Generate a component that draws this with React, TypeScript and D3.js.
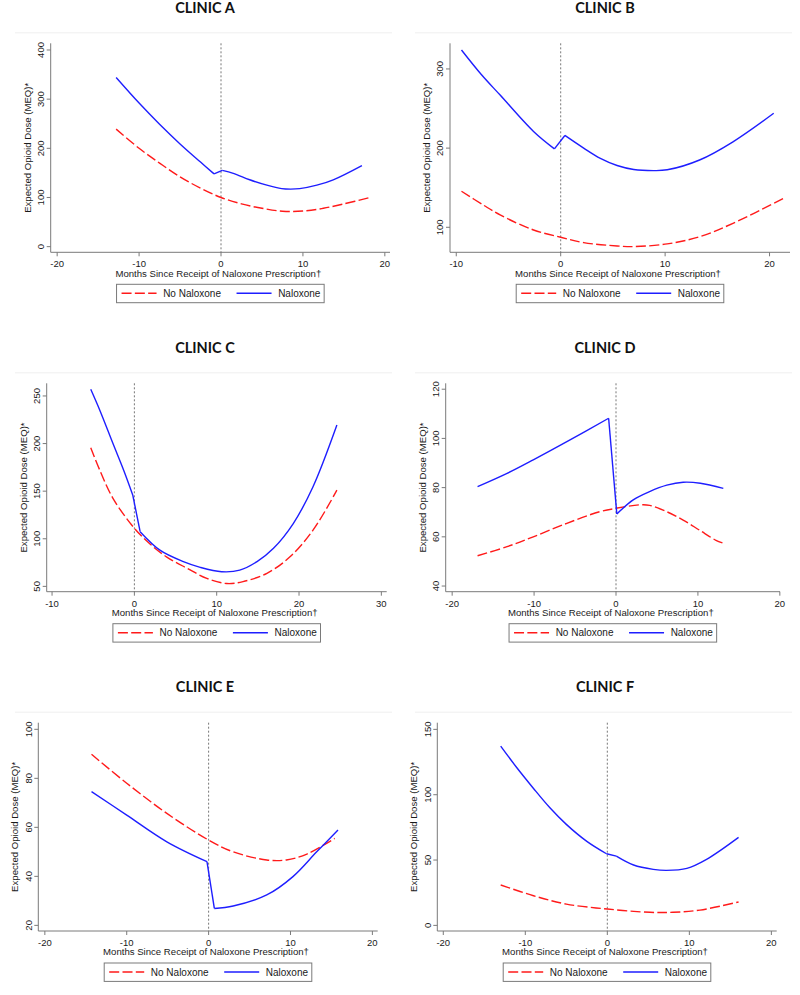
import React, { useEffect } from 'react';
import * as d3 from 'd3';

type Pt = [number, number];

// ---- Text ----
const panelTitles = ['CLINIC A', 'CLINIC B', 'CLINIC C', 'CLINIC D', 'CLINIC E', 'CLINIC F'];
const legendLabels = ['No Naloxone', 'Naloxone'];
const xAxisTitle = 'Months Since Receipt of Naloxone Prescription\u2020';
const yAxisTitle = 'Expected Opioid Dose (MEQ)*';

// ---- Clinic A ----
const clinicANoNaloxone: Pt[] = [[-12.8, 239], [-10, 200], [-7.5, 170], [-5, 142], [-2.5, 119], [0, 100], [2.5, 87], [5, 78], [7.5, 72], [10, 72.5], [12.5, 78], [15, 87], [18.2, 100]];
const clinicANaloxone: Pt[] = [[-12.8, 344], [-10, 292], [-7.5, 249], [-5, 209], [-2.5, 172], [-0.85, 148], [0.16, 155], [1.5, 149], [3.5, 136], [5.6, 125], [7.4, 118], [8.5, 117], [9.6, 118], [11.7, 125], [13.7, 136], [17.2, 165]];
const clinicAXTicks = [-20, -10, 0, 10, 20];
const clinicAYTicks = [0, 100, 200, 300, 400];

// ---- Clinic B ----
const clinicBNoNaloxone: Pt[] = [[-9.5, 145.5], [-7.4, 128], [-5.8, 115.6], [-2.6, 96.6], [0, 87.4], [2.2, 80.6], [5.4, 76.4], [7, 75.6], [10.2, 79], [13.3, 88], [16.5, 105], [21.4, 137]];
const clinicBNaloxone: Pt[] = [[-9.5, 324], [-7.6, 293], [-5.8, 267], [-2.6, 221], [-0.6, 199], [0.4, 216], [2.2, 200], [3.8, 187], [5.4, 178], [7, 173], [8.9, 171.6], [10.2, 172.6], [13.3, 185], [16.5, 208], [20.4, 244]];
const clinicBXTicks = [-10, 0, 10, 20];
const clinicBYTicks = [100, 200, 300];

// ---- Clinic C ----
const clinicCNoNaloxone: Pt[] = [[-5.3, 195.7], [-4.2, 172], [-2.6, 142.5], [0, 111], [1.9, 94.5], [3.9, 81], [6.4, 69], [8.8, 58.4], [11.2, 53], [13.2, 55], [16.1, 63.7], [18.9, 81], [21.7, 109], [24.6, 151]];
const clinicCNaloxone: Pt[] = [[-5.3, 257], [-4.2, 235], [-2.6, 200], [-1.3, 172], [-0.2, 146], [0.7, 107.4], [3.1, 88], [5.95, 76], [8, 70], [10.6, 65.4], [12.8, 67], [14.9, 76], [16.9, 90], [19.3, 116], [21.7, 154.7], [24.6, 219.5]];
const clinicCXTicks = [-10, 0, 10, 20, 30];
const clinicCYTicks = [50, 100, 150, 200, 250];

// ---- Clinic D ----
const clinicDNoNaloxone: Pt[] = [[-16.9, 52.3], [-13.3, 56], [-10.1, 60], [-6, 65.5], [-2, 70.2], [0, 71.6], [2.9, 73], [4.1, 72.8], [6.2, 70.2], [8.2, 66.8], [10.2, 62.7], [12.2, 58.6], [13.1, 57.4]];
const clinicDNaloxone: Pt[] = [[-16.9, 80.4], [-13.3, 85.8], [-10.1, 91.3], [-6, 98.7], [-0.9, 108.2], [0.1, 69.3], [2.1, 75], [4.1, 78.4], [6.2, 81], [8.2, 82.2], [10.3, 81.8], [13.1, 79.7]];
const clinicDXTicks = [-20, -10, 0, 10, 20];
const clinicDYTicks = [40, 60, 80, 100, 120];

// ---- Clinic E ----
const clinicENoNaloxone: Pt[] = [[-14.3, 89.8], [-10, 78], [-5.1, 65.7], [0, 54.8], [3, 50], [7.1, 46.7], [9.5, 46.7], [12, 49.1], [15.4, 55.5]];
const clinicENaloxone: Pt[] = [[-14.3, 74.6], [-10, 65], [-5.1, 54.1], [-0.2, 46], [0.7, 26.9], [3, 27.9], [7.1, 32.4], [10.3, 39.9], [13.2, 50], [15.8, 58.9]];
const clinicEXTicks = [-20, -10, 0, 10, 20];
const clinicEYTicks = [20, 40, 60, 80, 100];

// ---- Clinic F ----
const clinicFNoNaloxone: Pt[] = [[-13, 30.9], [-9, 22.7], [-5, 16.3], [0, 12.5], [5.2, 10], [8, 10], [11.3, 11.7], [16, 17.9]];
const clinicFNaloxone: Pt[] = [[-13, 137.2], [-11.1, 121.2], [-9, 104.8], [-7, 90], [-5, 77.3], [-2.5, 64.3], [-0.1, 54.8], [1.1, 53], [3.2, 46.2], [5.6, 42.9], [7.2, 42.1], [9.7, 43.6], [12.1, 50.5], [16, 67.3]];
const clinicFXTicks = [-20, -10, 0, 10, 20];
const clinicFYTicks = [0, 50, 100, 150];

// ---- Layout (positions, not data) ----
interface Layout { ox: number; left: number; top: number; right: number; bottom: number; xDomain: [number, number]; yDomain: [number, number]; }
const layouts: Layout[] = [
  { ox: 0, left: 50.7, top: 43.3, right: 390, bottom: 252.3, xDomain: [-20.79, 20.63], yDomain: [-11.5, 413.6] },
  { ox: 400, left: 450, top: 43.3, right: 790, bottom: 252.3, xDomain: [-10.6, 21.96], yDomain: [68.4, 332.4] },
  { ox: 0, left: 46.7, top: 383.3, right: 386.7, bottom: 591.7, xDomain: [-10.65, 30.65], yDomain: [44.4, 263.3] },
  { ox: 400, left: 445.7, top: 383.3, right: 780, bottom: 591.7, xDomain: [-20.79, 20.02], yDomain: [37.7, 122.4] },
  { ox: 0, left: 38.3, top: 722.7, right: 377.7, bottom: 931, xDomain: [-20.8, 20.65], yDomain: [17.7, 102.7] },
  { ox: 400, left: 437.3, top: 722.7, right: 776.7, bottom: 931, xDomain: [-20.73, 20.65], yDomain: [-4.3, 155.1] },
];

const panelData = [
  { noNal: clinicANoNaloxone, nal: clinicANaloxone, xTicks: clinicAXTicks, yTicks: clinicAYTicks },
  { noNal: clinicBNoNaloxone, nal: clinicBNaloxone, xTicks: clinicBXTicks, yTicks: clinicBYTicks },
  { noNal: clinicCNoNaloxone, nal: clinicCNaloxone, xTicks: clinicCXTicks, yTicks: clinicCYTicks },
  { noNal: clinicDNoNaloxone, nal: clinicDNaloxone, xTicks: clinicDXTicks, yTicks: clinicDYTicks },
  { noNal: clinicENoNaloxone, nal: clinicENaloxone, xTicks: clinicEXTicks, yTicks: clinicEYTicks },
  { noNal: clinicFNoNaloxone, nal: clinicFNaloxone, xTicks: clinicFXTicks, yTicks: clinicFYTicks },
];

const RED = '#ff1a1a';
const BLUE = '#1e1eff';
const AXIS = '#7a7a7a';
const TEXT = '#1a1a1a';
const SANS = "'Liberation Sans', Arial, sans-serif";
const TITLE_FONT = "Lato, 'Open Sans', sans-serif";

function Panel({ idx }: { idx: number }) {
  const L = layouts[idx];
  const D = panelData[idx];
  const x = d3.scaleLinear().domain(L.xDomain).range([L.left, L.right]);
  const y = d3.scaleLinear().domain(L.yDomain).range([L.bottom, L.top]);
  const line = d3.line<Pt>().x(d => x(d[0])).y(d => y(d[1])).curve(d3.curveCatmullRom.alpha(0.5));
  const lin = d3.line<Pt>().x(d => x(d[0])).y(d => y(d[1]));
  const pre = D.nal.filter(d => d[0] < 0);
  const post = D.nal.filter(d => d[0] >= 0);
  const connector: Pt[] = [pre[pre.length - 1], post[0]];
  const cx = (L.left + L.right) / 2;
  const cy = (L.top + L.bottom) / 2;
  const lw = 207.6;
  const lx = cx - lw / 2;
  const ly = L.bottom + 32;
  const lh = 18.4;
  return (
    <g>
      <line x1={L.ox + 15} x2={L.ox + 392} y1={L.top - 10.5} y2={L.top - 10.5} stroke="#efefef" strokeWidth={1} />
      <text x={L.ox + 205} y={L.top - 30.6} textAnchor="middle" fontFamily={TITLE_FONT} fontWeight={700} fontSize={14.5} fill="#111">{panelTitles[idx]}</text>
      {/* axes */}
      <line x1={L.left} x2={L.left} y1={L.top} y2={L.bottom} stroke={AXIS} strokeWidth={1} />
      <line x1={L.left} x2={L.right} y1={L.bottom} y2={L.bottom} stroke={AXIS} strokeWidth={1} />
      {D.yTicks.map(t => (
        <g key={'y' + t}>
          <line x1={L.left - 4} x2={L.left} y1={y(t)} y2={y(t)} stroke={AXIS} strokeWidth={1} />
          <text transform={`translate(${L.left - 6.7},${y(t)}) rotate(-90)`} textAnchor="middle" fontFamily={SANS} fontSize={9.5} fill={TEXT}>{t}</text>
        </g>
      ))}
      {D.xTicks.map(t => (
        <g key={'x' + t}>
          <line x1={x(t)} x2={x(t)} y1={L.bottom} y2={L.bottom + 4} stroke={AXIS} strokeWidth={1} />
          <text x={x(t)} y={L.bottom + 15} textAnchor="middle" fontFamily={SANS} fontSize={9.5} fill={TEXT}>{t}</text>
        </g>
      ))}
      <text x={cx - 2} y={L.bottom + 24.2} textAnchor="middle" fontFamily={SANS} fontSize={9.6} fill={TEXT}>{xAxisTitle}</text>
      <text transform={`translate(${L.left - 20},${cy}) rotate(-90)`} textAnchor="middle" fontFamily={SANS} fontSize={9.6} fill={TEXT}>{yAxisTitle}</text>
      {/* zero reference line */}
      <line x1={x(0)} x2={x(0)} y1={L.top} y2={L.bottom} stroke="#555" strokeWidth={0.8} strokeDasharray="2,2" />
      {/* series */}
      <path d={line(D.noNal) || ''} fill="none" stroke={RED} strokeWidth={1.4} strokeDasharray="10,3.3" />
      <path d={line(pre) || ''} fill="none" stroke={BLUE} strokeWidth={1.4} />
      <path d={lin(connector) || ''} fill="none" stroke={BLUE} strokeWidth={1.4} />
      <path d={line(post) || ''} fill="none" stroke={BLUE} strokeWidth={1.4} />
      {/* legend */}
      <rect x={lx} y={ly} width={lw} height={lh} fill="#fff" stroke={AXIS} strokeWidth={1} />
      <line x1={lx + 5} x2={lx + 40} y1={ly + 9} y2={ly + 9} stroke={RED} strokeWidth={1.4} strokeDasharray="10,3.3" />
      <text x={lx + 46.6} y={ly + 12.6} fontFamily={SANS} fontSize={10} fill={TEXT}>{legendLabels[0]}</text>
      <line x1={lx + 120} x2={lx + 155} y1={ly + 9} y2={ly + 9} stroke={BLUE} strokeWidth={1.4} />
      <text x={lx + 161.6} y={ly + 12.6} fontFamily={SANS} fontSize={10} fill={TEXT}>{legendLabels[1]}</text>
    </g>
  );
}

export default function App() {
  useEffect(() => {
    document.body.style.margin = '0';
  }, []);
  return (
    <svg width={800} height={995} style={{ position: 'absolute', left: 0, top: 0, background: '#fff' }}>
      <rect x={0} y={0} width={800} height={995} fill="#fff" />
      {layouts.map((_, i) => <Panel key={i} idx={i} />)}
    </svg>
  );
}
